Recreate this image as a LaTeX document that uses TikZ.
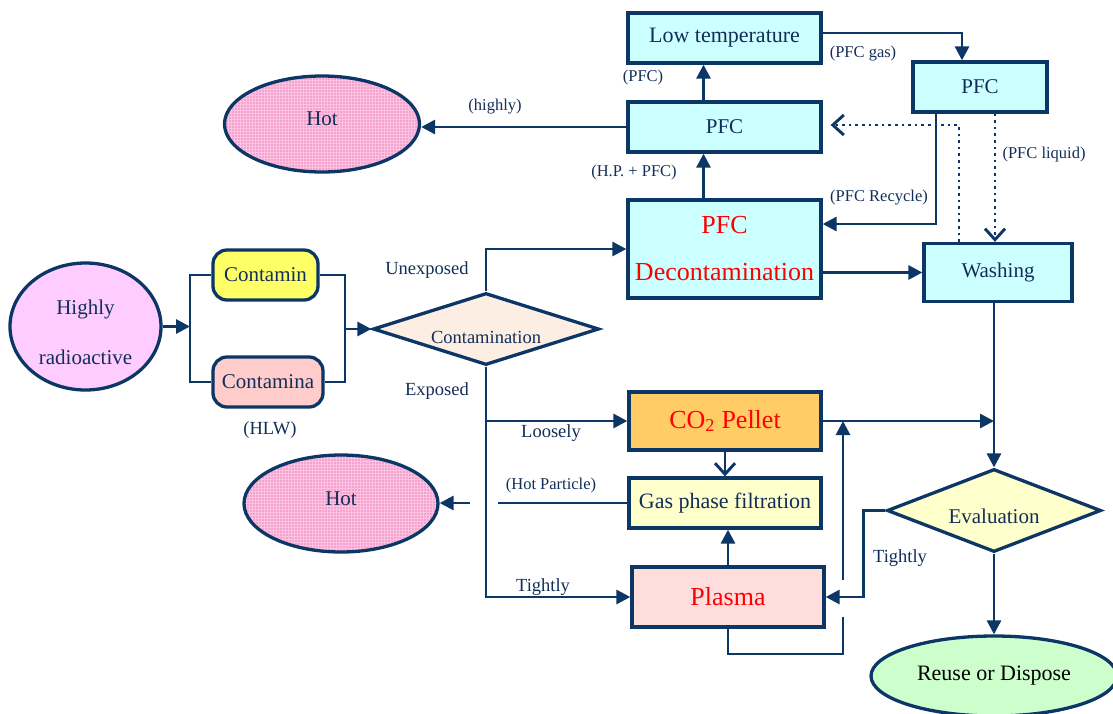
\documentclass[tikz,border=0pt]{standalone}
\usepackage{fontspec}
\setmainfont{Liberation Serif}
\usetikzlibrary{arrows.meta,shapes.geometric,calc,patterns}

\definecolor{navy}{HTML}{0C3665}
\definecolor{txtnavy}{HTML}{122E58}
\definecolor{cyanbox}{HTML}{CCFFFF}
\definecolor{yelbox}{HTML}{FFFF66}
\definecolor{rosebox}{HTML}{FFCCCC}
\definecolor{lilac}{HTML}{FFCCFF}
\definecolor{peach}{HTML}{FDEEE3}
\definecolor{orangebox}{HTML}{FFCC66}
\definecolor{creambox}{HTML}{FFFFCC}
\definecolor{pinkbox}{HTML}{FFDDDD}
\definecolor{mintbox}{HTML}{CCFFCC}
\definecolor{hotpink}{HTML}{F6A2CE}
\definecolor{hotgrid}{HTML}{FBC3E1}
\definecolor{redtxt}{HTML}{FF0000}

\begin{document}
\begin{tikzpicture}[x=1pt,y=-1pt,
  shape base/.style={draw=navy, line width=3.3pt, inner sep=0pt, text=txtnavy},
  procbox/.style={shape base, rectangle, fill=cyanbox},
  roundbox/.style={shape base, rectangle, rounded corners=14pt},
  oval/.style={shape base, ellipse},
  hotoval/.style={oval, preaction={fill=hotpink}, pattern=grid, pattern color=hotgrid},
  decision/.style={shape base, diamond},
  f16/.style={font=\fontsize{16.5}{20}\selectfont},
  f18/.style={font=\fontsize{18.5}{22}\selectfont},
  f21/.style={font=\fontsize{21}{25}\selectfont},
  f22/.style={font=\fontsize{22}{26}\selectfont},
  f26/.style={font=\fontsize{26}{31}\selectfont},
  lbl/.style={inner sep=0pt, text=txtnavy},
  conn/.style={draw=navy, line width=2.9pt},
  arr/.style={conn, -{Triangle[length=14pt,width=14pt]}},
  barb/.style={conn, -{Straight Barb[length=11pt,width=20pt]}},
  dotarr/.style={conn, dash pattern=on 2.6pt off 4pt, -{Straight Barb[length=11pt,width=20pt]}}
]
\useasboundingbox (0,0) rectangle (1113,713);

% ---- source and its two streams
\node[oval, fill=lilac, minimum width=151pt, minimum height=127pt, f21, align=center]
  (radio) at (85.5,326.5) {\rule{0pt}{27pt}Highly\\[25pt]radioactive};
\node[roundbox, fill=yelbox, minimum width=105pt, minimum height=50pt, f21]
  (contamin) at (265.5,275) {Contamin};
\node[roundbox, fill=rosebox, minimum width=110pt, minimum height=50pt, f21]
  (contamina) at (268,382) {Contamina};
\node[lbl, f18] (hlw) at (270,430) {(HLW)};

% ---- decision on contamination type
\node[decision, fill=peach, aspect=3.1, minimum width=226pt, minimum height=72pt, f18,
      text height=28pt, text depth=0pt]
  (contam) at (486,329) {Contamination};

% ---- PFC branch
\node[procbox, minimum width=193pt, minimum height=98pt, f26, text=redtxt, align=center]
  (decon) at (724.5,249) {PFC\\[16pt]Decontamination};
\node[procbox, minimum width=193pt, minimum height=50pt, f21] (pfcmid) at (724.5,127) {PFC};
\node[procbox, minimum width=193pt, minimum height=50pt, f22] (lowtemp) at (724.5,38) {Low temperature};
\node[procbox, minimum width=134pt, minimum height=50pt, f21] (pfcr) at (980,87) {PFC};
\node[procbox, minimum width=148pt, minimum height=58pt, f21] (wash) at (998,272.5) {Washing};
\node[hotoval, minimum width=195pt, minimum height=96pt, f21, text height=2pt, text depth=0pt]
  (hot1) at (322,124) {Hot};

% ---- dry branch
\node[shape base, rectangle, fill=orangebox, minimum width=192pt, minimum height=58pt, f26, text=redtxt]
  (co2) at (725,421) {CO\textsubscript{2} Pellet};
\node[shape base, rectangle, fill=creambox, minimum width=192pt, minimum height=50pt, f22]
  (gas) at (725,503) {Gas phase filtration};
\node[shape base, rectangle, fill=pinkbox, minimum width=192pt, minimum height=60pt, f26, text=redtxt]
  (plasma) at (728,597) {Plasma};
\node[hotoval, minimum width=194pt, minimum height=97pt, f21, text height=3pt, text depth=0pt]
  (hot2) at (341,503.5) {Hot};

% ---- evaluation and end
\node[decision, fill=creambox, aspect=2.6, minimum width=214pt, minimum height=83pt, f21,
      text height=25pt, text depth=0pt]
  (eval) at (994,510.5) {Evaluation};
\node[oval, fill=mintbox, minimum width=246pt, minimum height=80pt, f22, text=black,
      text height=8pt, text depth=0pt]
  (reuse) at (994,676) {Reuse or Dispose};

% ---- helper points
\coordinate (bkL) at (190,328);
\coordinate (bkR) at (345,329);
\coordinate (dotup) at ($(wash.north)+(-39,0)$);
\coordinate (liq) at ($(pfcr.south)+(15,0)$);
\coordinate (hopR) at (498,503);
\coordinate (hopL) at (470,503);
\coordinate (loopR) at (843,654);
\coordinate (hopT) at (843,617);
\coordinate (riseB) at (843,580);

% ---- connectors
\draw[arr] (radio.east) -- (radio.east -| bkL);
\draw[conn] (contamin.west) -| (bkL) |- (contamina.west);
\draw[conn] (contamin.east) -| (bkR) |- (contamina.east);
\draw[arr] (bkR) -- (contam.west);

\draw[arr] (contam.north) |- (decon.west);
\draw[arr] (contam.south) |- (co2.west);
\draw[arr] (contam.south) |- (plasma.west);

\draw[arr] ($(decon.north)+(-21,0)$) -- ($(pfcmid.south)+(-21,0)$);
\draw[arr] ($(pfcmid.north)+(-21,0)$) -- ($(lowtemp.south)+(-21,0)$);
\draw[arr] (pfcmid.west) -- (pfcmid.west -| hot1.east);
\draw[arr] ($(lowtemp.east)+(0,-5)$) -| ($(pfcr.north)+(-18,0)$);
\draw[arr] ($(pfcr.south)+(-44,0)$) |- ($(decon.east)+(0,-25)$);
\draw[dotarr] (dotup) |- ($(pfcmid.east)+(8,-2)$);
\draw[dotarr] (liq) -- (liq |- wash.north);
\draw[arr] (decon.east |- wash.west) -- (wash.west);
\draw[arr] (eval.north |- wash.south) -- (eval.north);

\draw[arr] (co2.east) -- (co2.east -| eval.north);
\draw[barb] (co2.south) -- (gas.north);
\draw[conn] (gas.west) -- (hopR);
\draw[arr] (hopL) -- (hopL -| hot2.east);
\draw[arr] (plasma.north) -- (plasma.north |- gas.south);
\draw[conn] (plasma.south) |- (loopR) -- (hopT);
\draw[arr] (riseB) -- (riseB |- co2.east);
\draw[arr] (eval.west) -- ++(-22,0) |- (plasma.east);
\draw[arr] (eval.south) -- (reuse.north);

% ---- labels
\node[lbl, f18] (lunexp) at (427,270) {Unexposed};
\node[lbl, f18] (lexp) at (437,391) {Exposed};
\node[lbl, f18] (lloose) at (551,433) {Loosely};
\node[lbl, f18] (ltight) at (543,587) {Tightly};
\node[lbl, f16] (lhotp) at (551,486) {(Hot Particle)};
\node[lbl, f18] (ltight2) at (900,558) {Tightly};
\node[lbl, f16] (lhighly) at (495,107) {(highly)};
\node[lbl, f16] (lhp) at (634,173) {(H.P. + PFC)};
\node[lbl, f16] (lpfc) at (643,78) {(PFC)};
\node[lbl, f16] (lgas) at (863,54) {(PFC gas)};
\node[lbl, f16] (lliq) at (1044,155) {(PFC liquid)};
\node[lbl, f16] (lrec) at (879,198) {(PFC Recycle)};
\end{tikzpicture}
\end{document}
